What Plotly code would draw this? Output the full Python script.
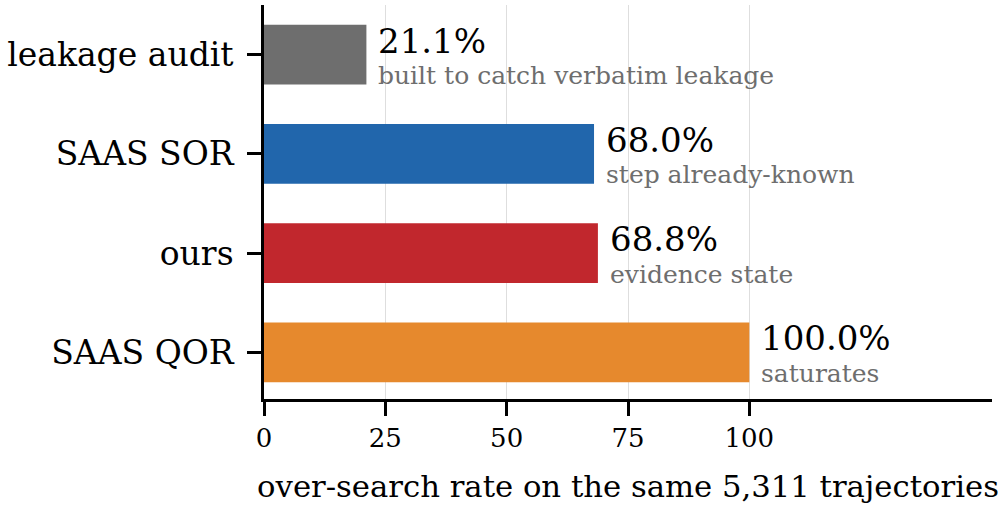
import plotly.graph_objects as go

categories = ["SAAS QOR", "ours", "SAAS SOR", "leakage audit"]
values = [100.0, 68.8, 68.0, 21.1]
notes = ["saturates", "evidence state", "step already-known", "built to catch verbatim leakage"]
colors = ["#e6892d", "#c1272d", "#2166ac", "#6e6e6e"]
x_ticks = [0, 25, 50, 75, 100]

FONT = "DejaVu Serif"
ypos = list(range(len(categories)))

fig = go.Figure()
fig.add_trace(go.Bar(
    x=values, y=ypos, orientation="h", width=0.6,
    marker=dict(color=colors, line=dict(width=0)),
    hoverinfo="skip",
))

for yv, v, n in zip(ypos, values, notes):
    fig.add_annotation(x=v, y=yv, text=f"{v:.1f}%", showarrow=False,
                       xanchor="left", yanchor="middle", xshift=10, yshift=14,
                       font=dict(family=FONT, size=34, color="#000000"))
    fig.add_annotation(x=v, y=yv, text=n, showarrow=False,
                       xanchor="left", yanchor="middle", xshift=10, yshift=-21,
                       font=dict(family=FONT, size=25, color="#6e6e6e"))

fig.update_layout(
    width=998, height=511,
    margin=dict(l=264, r=6, t=5, b=112),
    plot_bgcolor="white", paper_bgcolor="white",
    showlegend=False,
    font=dict(family=FONT, color="#000000"),
    xaxis=dict(
        range=[0, 150], tickvals=x_ticks, ticktext=[str(t) for t in x_ticks],
        showgrid=True, gridcolor="#dedede", gridwidth=1.3,
        showline=True, linecolor="black", linewidth=2.6,
        ticks="outside", ticklen=14, tickwidth=2.6, tickcolor="black",
        tickfont=dict(family=FONT, size=26),
        title=dict(text="over-search rate on the same 5,311 trajectories",
                   font=dict(family=FONT, size=30.7), standoff=24),
        zeroline=False,
    ),
    yaxis=dict(
        range=[-0.47, 3.5], tickvals=ypos, ticktext=categories,
        showgrid=False, showline=True, linecolor="black", linewidth=2.6,
        ticks="outside", ticklen=14, tickwidth=2.6, tickcolor="black",
        ticklabelstandoff=7,
        tickfont=dict(family=FONT, size=33), zeroline=False,
    ),
)

fig.write_html("out.html")
